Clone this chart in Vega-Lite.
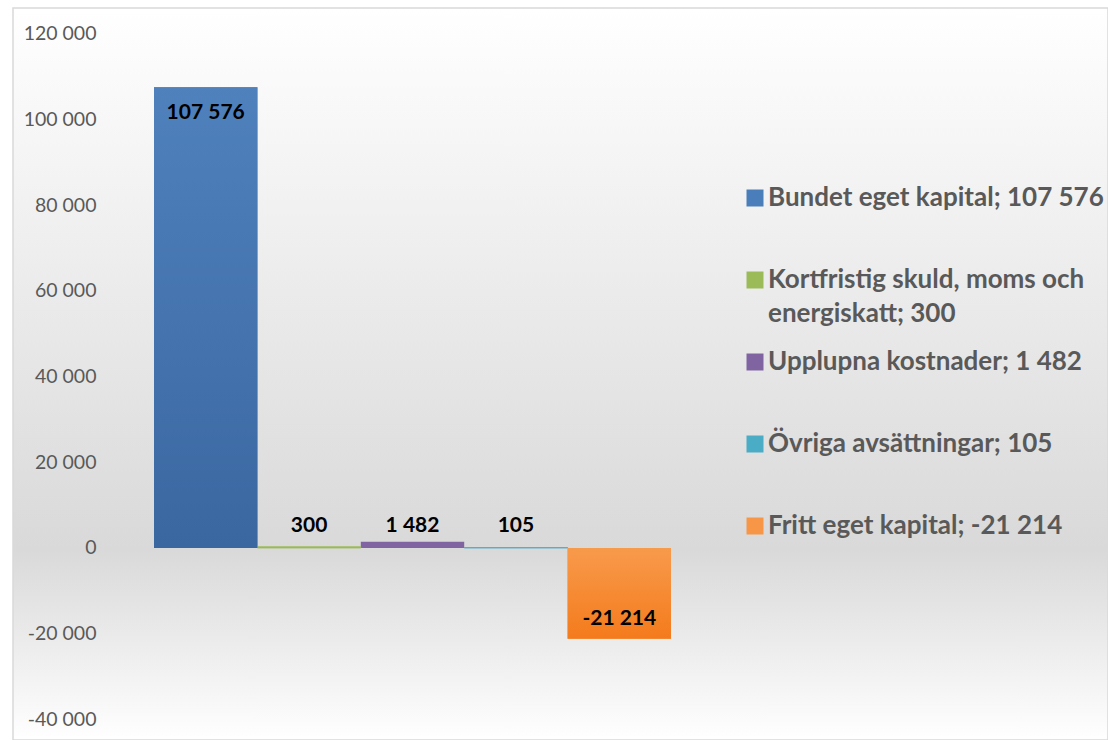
{
  "$schema": "https://vega.github.io/schema/vega-lite/v6.json",
  "width": 1095,
  "height": 732,
  "autosize": {"type": "none"},
  "padding": {"left": 13, "top": 8, "right": 0, "bottom": 0},
  "config": {
    "locale": {"number": {"decimal": ",", "thousands": " ", "grouping": [3], "currency": ["", " kr"], "minus": "-"}},
    "view": {
      "fill": {"gradient": "linear", "x1": 0, "y1": 0, "x2": 0, "y2": 1, "stops": [{"offset": 0, "color": "#ffffff"}, {"offset": 0.74, "color": "#d9d9d9"}, {"offset": 1, "color": "#ffffff"}]},
      "stroke": "#d9d9d9",
      "strokeWidth": 1.5
    }
  },
  "data": {"values": [
    {"serie": "Bundet eget kapital; 107 576", "value": 107576},
    {"serie": "Kortfristig skuld, moms och energiskatt; 300", "value": 300},
    {"serie": "Upplupna kostnader; 1 482", "value": 1482},
    {"serie": "Övriga avsättningar; 105", "value": 105},
    {"serie": "Fritt eget kapital; -21 214", "value": -21214}
  ]},
  "encoding": {
    "x": {"field": "serie", "type": "nominal", "sort": null, "axis": null,
      "scale": {"domain": ["Bundet eget kapital; 107 576", "Kortfristig skuld, moms och energiskatt; 300", "Upplupna kostnader; 1 482", "Övriga avsättningar; 105", "Fritt eget kapital; -21 214"], "range": [141, 658], "paddingInner": 0, "paddingOuter": 0}},
    "y": {"field": "value", "type": "quantitative",
      "scale": {"domain": [-44825, 126070], "nice": false, "zero": false},
      "axis": {"values": [-40000, -20000, 0, 20000, 40000, 60000, 80000, 100000, 120000], "format": ",.0f", "domain": false, "ticks": false, "tickSize": 0, "grid": false, "labelFont": "Lato", "labelFontSize": 19.5, "labelColor": "#595959", "offset": -83, "labelPadding": 0, "title": null}}
  },
  "layer": [
    {
      "mark": {"type": "bar"},
      "encoding": {
        "color": {"field": "serie", "type": "nominal",
          "scale": {"domain": ["Bundet eget kapital; 107 576", "Kortfristig skuld, moms och energiskatt; 300", "Upplupna kostnader; 1 482", "Övriga avsättningar; 105", "Fritt eget kapital; -21 214"], "range": ["#4a7ebb", "#9bbb59", "#8064a2", "#4bacc6", "#f79646"]},
          "legend": {
            "orient": "none", "legendX": 729, "legendY": 177, "title": null,
            "symbolType": "square", "symbolSize": 289, "symbolStrokeWidth": 0,
            "labelFont": "Lato", "labelFontWeight": "bold", "labelFontSize": 26, "labelColor": "#595959",
            "labelLimit": 700, "labelOffset": 0, "rowPadding": 22,
            "labelExpr": "datum.label == 'Kortfristig skuld, moms och energiskatt; 300' ? ['Kortfristig skuld, moms och', 'energiskatt; 300'] : [datum.label, '']",
            "encode": {"labels": {"update": {"lineHeight": {"value": 34}}}}
          }}
      }
    },
    {
      "transform": [{"filter": "datum.value >= 0 && datum.value < 1000"}],
      "mark": {"type": "bar", "filled": false, "strokeWidth": 0.8},
      "encoding": {
        "stroke": {"field": "serie", "type": "nominal", "legend": null,
          "scale": {"domain": ["Bundet eget kapital; 107 576", "Kortfristig skuld, moms och energiskatt; 300", "Upplupna kostnader; 1 482", "Övriga avsättningar; 105", "Fritt eget kapital; -21 214"], "range": ["#4a7ebb", "#9bbb59", "#8064a2", "#4bacc6", "#f79646"]}}
      }
    },
    {
      "transform": [{"filter": "datum.value > 50000"}],
      "mark": {"type": "bar", "color": {"gradient": "linear", "x1": 0, "y1": 0, "x2": 0, "y2": 1, "stops": [{"offset": 0, "color": "#4f81bd"}, {"offset": 1, "color": "#3b67a0"}]}}
    },
    {
      "transform": [{"filter": "datum.value < 0"}],
      "mark": {"type": "bar", "color": {"gradient": "linear", "x1": 0, "y1": 0, "x2": 0, "y2": 1, "stops": [{"offset": 0, "color": "#f89a4c"}, {"offset": 1, "color": "#f47b1c"}]}}
    },
    {
      "transform": [{"filter": "datum.value > 50000"}],
      "mark": {"type": "text", "font": "Lato", "fontWeight": "bold", "fontSize": 21, "color": "#000000", "baseline": "middle", "dy": 26},
      "encoding": {"text": {"field": "value", "type": "quantitative", "format": ","}}
    },
    {
      "transform": [{"filter": "datum.value >= 0 && datum.value < 50000"}],
      "mark": {"type": "text", "font": "Lato", "fontWeight": "bold", "fontSize": 21, "color": "#000000", "baseline": "middle", "dy": -22},
      "encoding": {"y": {"datum": 0, "type": "quantitative"}, "text": {"field": "value", "type": "quantitative", "format": ","}}
    },
    {
      "transform": [{"filter": "datum.value < 0"}],
      "mark": {"type": "text", "font": "Lato", "fontWeight": "bold", "fontSize": 21, "color": "#000000", "baseline": "middle", "dy": -20},
      "encoding": {"text": {"field": "value", "type": "quantitative", "format": ","}}
    }
  ]
}
